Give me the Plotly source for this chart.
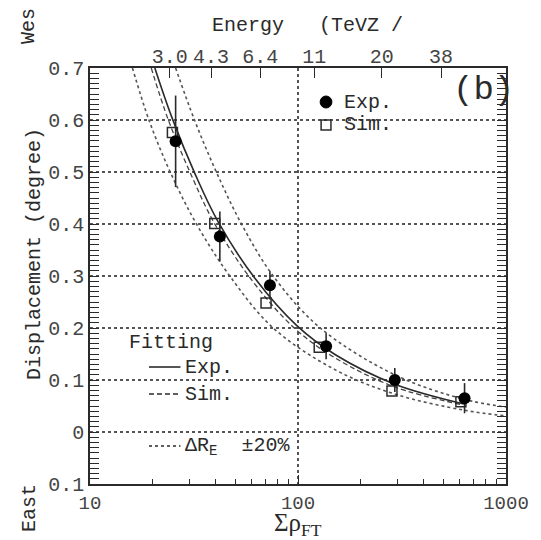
import plotly.graph_objects as go

# ---- data ----
sum_rho_exp = [25.8, 42.1, 73.3, 136.5, 292, 632]
disp_exp = [0.559, 0.376, 0.282, 0.165, 0.100, 0.065]
err_exp = [0.088, 0.048, 0.027, 0.025, 0.023, 0.029]

sum_rho_sim = [24.9, 39.8, 70.2, 126.5, 283, 607]
disp_sim = [0.576, 0.401, 0.248, 0.163, 0.079, 0.058]

fit_exp_x = [20.5, 24.7, 32.1, 41.2, 62.2, 98.4, 152, 292, 627]
fit_exp_y = [0.700, 0.606, 0.495, 0.405, 0.295, 0.205, 0.148, 0.092, 0.054]

fit_sim_x = [19.7, 23.8, 31.0, 39.8, 60.5, 96, 150, 290, 620]
fit_sim_y = [0.70, 0.60, 0.49, 0.40, 0.29, 0.20, 0.143, 0.087, 0.052]

upper_x = [25.8, 31.8, 40.5, 53.5, 76, 128, 292, 627, 1000]
upper_y = [0.70, 0.60, 0.50, 0.40, 0.30, 0.20, 0.110, 0.063, 0.048]

lower_x = [16.0, 19.2, 24.3, 32.5, 47, 76, 152, 292, 627, 1000]
lower_y = [0.70, 0.60, 0.50, 0.40, 0.30, 0.20, 0.119, 0.073, 0.042, 0.031]

energy_pos = [24.2, 38.2, 65.8, 119.7, 253, 487]
energy_labels = ["3.0", "4.3", "6.4", "11", "20", "38"]

y_tickvals = [-0.1, 0, 0.1, 0.2, 0.3, 0.4, 0.5, 0.6, 0.7]
y_ticktext = ["0.1", "0", "0.1", "0.2", "0.3", "0.4", "0.5", "0.6", "0.7"]

INK = "#2a2a2a"
MONO = "Liberation Mono, Courier New, monospace"
SERIF = "Liberation Serif, Times New Roman, serif"

fig = go.Figure()

fig.add_trace(go.Scatter(x=lower_x, y=lower_y, mode="lines", line=dict(color="#555", width=1.6, dash="dot", shape="spline"), hoverinfo="skip"))
fig.add_trace(go.Scatter(x=upper_x, y=upper_y, mode="lines", line=dict(color="#555", width=1.6, dash="dot", shape="spline"), hoverinfo="skip"))
fig.add_trace(go.Scatter(x=fit_sim_x, y=fit_sim_y, mode="lines", line=dict(color="#444", width=1.3, dash="5px,3px", shape="spline"), hoverinfo="skip"))
fig.add_trace(go.Scatter(x=fit_exp_x, y=fit_exp_y, mode="lines", line=dict(color=INK, width=1.6, shape="spline"), hoverinfo="skip"))

fig.add_trace(go.Scatter(x=sum_rho_sim, y=disp_sim, mode="markers",
                         marker=dict(symbol="square-open", size=10, color=INK, line=dict(width=1.5, color=INK))))
fig.add_trace(go.Scatter(x=sum_rho_exp, y=disp_exp, mode="markers",
                         error_y=dict(type="data", array=err_exp, visible=True, color=INK, thickness=1.6, width=0),
                         marker=dict(symbol="circle", size=12, color="black")))

# invisible trace for the top energy axis
fig.add_trace(go.Scatter(x=[10, 1000], y=[None, None], xaxis="x2", yaxis="y", mode="markers",
                         marker=dict(opacity=0), hoverinfo="skip"))

fig.update_layout(
    width=541, height=540,
    margin=dict(l=90, r=28, t=68, b=56),
    paper_bgcolor="white", plot_bgcolor="white",
    showlegend=False,
    font=dict(family=MONO, color=INK, size=20),
    xaxis=dict(type="log", range=[1, 3], dtick=1,
               tickvals=[10, 100, 1000], ticktext=["10", "100", "1000"],
               ticks="inside", ticklen=9, tickwidth=1.3, tickcolor=INK,
               minor=dict(ticks="inside", ticklen=5, tickwidth=1.2, tickcolor=INK, dtick="D1", showgrid=False),
               showline=True, linecolor=INK, linewidth=1.6, mirror=True,
               showgrid=True, gridcolor="#555", griddash="dot", gridwidth=1.5,
               tickfont=dict(size=19, family=MONO, color="#444"), zeroline=False),
    xaxis2=dict(type="log", range=[1, 3], overlaying="x", side="top",
                tickvals=energy_pos, ticktext=energy_labels,
                ticks="inside", ticklen=10, tickwidth=1.3, tickcolor=INK,
                showline=False, showgrid=False, zeroline=False,
                tickfont=dict(size=20, family=MONO, color="#444")),
    yaxis=dict(range=[-0.1, 0.7], tickvals=y_tickvals, ticktext=y_ticktext,
               ticks="inside", ticklen=9, tickwidth=1.3, tickcolor=INK,
               minor=dict(ticks="inside", ticklen=5, tickwidth=1.1, tickcolor=INK, dtick=0.01, showgrid=False),
               showline=True, linecolor=INK, linewidth=1.6, mirror="allticks",
               showgrid=True, gridcolor="#555", griddash="dot", gridwidth=1.5,
               zeroline=False, tickfont=dict(size=20, family=MONO, color="#444")),
)

def px2paper(px, py):
    return (px - 90) / 423.0, (484 - py) / 416.0

anns = []
def ann(text, px, py, size=20, family=MONO, xanchor="center", angle=0):
    xp, yp = px2paper(px, py)
    anns.append(dict(text=text, x=xp, y=yp, xref="paper", yref="paper", showarrow=False,
                     xanchor=xanchor, yanchor="middle", textangle=angle,
                     font=dict(size=size, family=family, color=INK)))

ann("Displacement (degree)", 33, 254, angle=-90)
ann("Wes", 28, 26, angle=-90)
ann("East", 28, 508, angle=-90)
ann("Energy", 251, 25)
ann("(TeVZ /", 366, 25)
ann("Σρ<sub>FT</sub>", 302, 524, size=25, family=SERIF)
ann("(b)", 490, 90, size=34)
ann("Exp.", 346, 102, xanchor="left")
ann("Sim.", 346, 125, xanchor="left")
ann("Fitting", 128, 342, xanchor="left")
ann("Exp.", 185, 367, xanchor="left")
ann("Sim.", 185, 394, xanchor="left")
ann("ΔR<sub>E</sub>  ±20%", 185, 446, xanchor="left")
fig.update_layout(annotations=anns)

shapes = []
cx, cy = px2paper(330, 102)
shapes.append(dict(type="circle", xref="paper", yref="paper", x0=cx - 6/423, x1=cx + 6/423,
                   y0=cy - 6/416, y1=cy + 6/416, fillcolor="black", line=dict(color="black", width=1)))
sx, sy = px2paper(330, 125)
shapes.append(dict(type="rect", xref="paper", yref="paper", x0=sx - 5/423, x1=sx + 5/423,
                   y0=sy - 5/416, y1=sy + 5/416, line=dict(color=INK, width=1.5)))
for (y, dash, w) in [(367, "solid", 1.6), (394, "5px,3px", 1.3), (446, "dot", 1.6)]:
    x0, yp = px2paper(150, y)
    x1, _ = px2paper(182, y)
    shapes.append(dict(type="line", xref="paper", yref="paper", x0=x0, x1=x1, y0=yp, y1=yp,
                       line=dict(color=INK, width=w, dash=dash)))
fig.update_layout(shapes=shapes)

fig.write_html("out.html")
